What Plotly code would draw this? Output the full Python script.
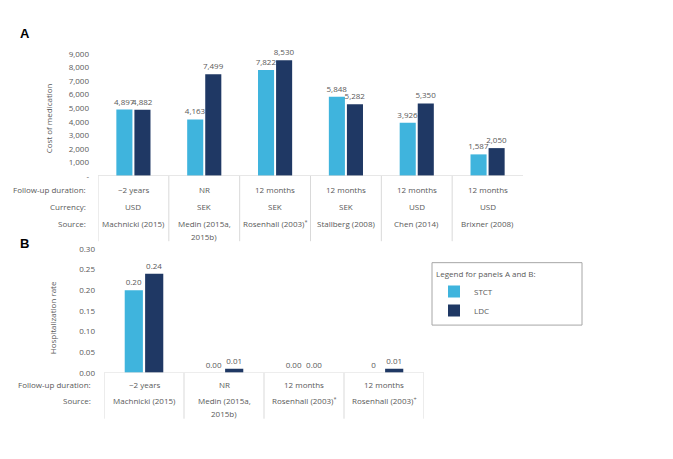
import plotly.graph_objects as go

# the page body has an 8px margin, so the figure is 16px smaller than the window
W, H = 657, 443
OFF = 8

# panel A: cost of medication
studies_a = ["Machnicki (2015)", "Medin (2015a,<br>2015b)", "Rosenhall (2003)<sup>*</sup>",
             "Stallberg (2008)", "Chen (2014)", "Brixner (2008)"]
followup_a = ["~2 years", "NR", "12 months", "12 months", "12 months", "12 months"]
currency_a = ["USD", "SEK", "SEK", "SEK", "USD", "USD"]
stct_cost = [4897, 4163, 7822, 5848, 3926, 1587]
ldc_cost = [4882, 7499, 8530, 5282, 5350, 2050]
cost_ticks = [0, 1000, 2000, 3000, 4000, 5000, 6000, 7000, 8000, 9000]
cost_ticktext = ["-", "1,000", "2,000", "3,000", "4,000", "5,000", "6,000", "7,000", "8,000", "9,000"]

# panel B: hospitalization rate
studies_b = ["Machnicki (2015)", "Medin (2015a,<br>2015b)", "Rosenhall (2003)<sup>*</sup>",
             "Rosenhall (2003)<sup>+</sup>"]
followup_b = ["~2 years", "NR", "12 months", "12 months"]
stct_hosp = [0.20, 0.00, 0.00, 0.0]
ldc_hosp = [0.24, 0.01, 0.00, 0.01]
stct_hosp_text = ["0.20", "0.00", "0.00", "0"]
ldc_hosp_text = ["0.24", "0.01", "0.00", "0.01"]
hosp_ticks = [0, 0.05, 0.10, 0.15, 0.20, 0.25, 0.30]
hosp_ticktext = ["0.00", "0.05", "0.10", "0.15", "0.20", "0.25", "0.30"]

LIGHT = "#3FB4DD"
DARK = "#1F3864"
GREY = "#595959"
LINE = "#D9D9D9"
FONT = "Open Sans"
FS = 8


def px(p):
    return (p - OFF) / W


def py(p):
    return 1 - (p - OFF) / H


def note(text, x, y, xref="paper", xanchor="center", **kw):
    d = dict(text=text, x=x, y=y, xref=xref, yref="paper", xanchor=xanchor, yanchor="middle",
             showarrow=False, font=dict(size=FS, color=GREY))
    d.update(kw)
    return d


xa = list(range(len(studies_a)))
xb = list(range(len(studies_b)))

fig = go.Figure()
fig.add_trace(go.Bar(x=xa, y=stct_cost, name="STCT", marker_color=LIGHT,
                     text=[f"{v:,}" for v in stct_cost], textposition="outside",
                     xaxis="x", yaxis="y", legendgroup="s"))
fig.add_trace(go.Bar(x=xa, y=ldc_cost, name="LDC", marker_color=DARK,
                     text=[f"{v:,}" for v in ldc_cost], textposition="outside",
                     xaxis="x", yaxis="y", legendgroup="l"))
fig.add_trace(go.Bar(x=xb, y=stct_hosp, name="STCT", marker_color=LIGHT,
                     text=stct_hosp_text, textposition="outside",
                     xaxis="x2", yaxis="y2", showlegend=False, legendgroup="s"))
fig.add_trace(go.Bar(x=xb, y=ldc_hosp, name="LDC", marker_color=DARK,
                     text=ldc_hosp_text, textposition="outside",
                     xaxis="x2", yaxis="y2", showlegend=False, legendgroup="l"))
fig.update_traces(textfont=dict(size=FS, color=GREY), cliponaxis=False,
                  constraintext="none", marker_line_width=0, hoverinfo="skip")

annotations = []
shapes = []

# panel letters
letter_font = dict(size=13, color="black", family="Liberation Sans")
annotations.append(note("<b>A</b>", px(25), py(28), font=letter_font))
annotations.append(note("<b>B</b>", px(24), py(243), font=letter_font))

# axis titles
annotations.append(note("Cost of medication", px(48), py(115), textangle=-90))
annotations.append(note("Hospitalization rate", px(52), py(320), textangle=-90))


def table(xref, row_right, rows, n, div_top, div_bottom, right_edge, yref_axis):
    # row labels and cell text
    for label, ypix, vals in rows:
        annotations.append(note(label, px(row_right), py(ypix), xanchor="right"))
        for i, v in enumerate(vals):
            for k, part in enumerate(v.split("<br>")):
                annotations.append(note(part, i, py(ypix + k * 13.5), xref=xref))
    # dividers
    last = n if right_edge else n - 1
    for i in range(last + 1):
        shapes.append(dict(type="line", xref=xref, yref="paper", x0=i - 0.5, x1=i - 0.5,
                           y0=py(div_top), y1=py(div_bottom), line=dict(color=LINE, width=1)))
    # baseline
    shapes.append(dict(type="line", xref=xref, yref=yref_axis, x0=-0.5, x1=n - 0.5, y0=0, y1=0,
                       line=dict(color=LINE, width=1)))


table("x", 88, [("Follow-up duration:", 188, followup_a), ("Currency:", 205, currency_a),
                ("Source:", 223, studies_a)], len(studies_a), 174, 241, False, "y")
table("x2", 93, [("Follow-up duration:", 388, followup_b), ("Source:", 404, studies_b)],
      len(studies_b), 376, 423, True, "y2")

# legend border
shapes.append(dict(type="rect", xref="paper", yref="paper", x0=px(432), x1=px(582),
                   y0=py(263), y1=py(327), line=dict(color="#A6A6A6", width=1)))

axis_common = dict(showgrid=False, zeroline=False, showline=False, ticks="",
                   tickfont=dict(size=FS, color=GREY), fixedrange=True)

fig.update_layout(
    width=W, height=H,
    margin=dict(l=0, r=0, t=0, b=0),
    paper_bgcolor="white", plot_bgcolor="white",
    font=dict(family=FONT, size=FS, color=GREY),
    barmode="group", bargap=0.49, bargroupgap=0.11,
    xaxis=dict(domain=[px(98), px(523)], range=[-0.5, len(studies_a) - 0.5],
               showticklabels=False, anchor="y", **axis_common),
    yaxis=dict(domain=[py(174), py(49)], range=[0, 9000], tickvals=cost_ticks,
               ticktext=cost_ticktext, anchor="x", ticklabelstandoff=8, **axis_common),
    xaxis2=dict(domain=[px(104), px(424)], range=[-0.5, len(studies_b) - 0.5],
                showticklabels=False, anchor="y2", **axis_common),
    yaxis2=dict(domain=[py(376), py(249)], range=[0, 0.30], tickvals=hosp_ticks,
                ticktext=hosp_ticktext, anchor="x2", ticklabelstandoff=8, **axis_common),
    legend=dict(x=px(434), y=py(267), xanchor="left", yanchor="top",
                bgcolor="rgba(0,0,0,0)", borderwidth=0,
                title=dict(text="Legend for panels A and B:", font=dict(size=FS, color=GREY)),
                font=dict(size=FS, color=GREY), tracegroupgap=0),
    annotations=annotations,
    shapes=shapes,
    showlegend=True,
)

fig.write_html("out.html")
